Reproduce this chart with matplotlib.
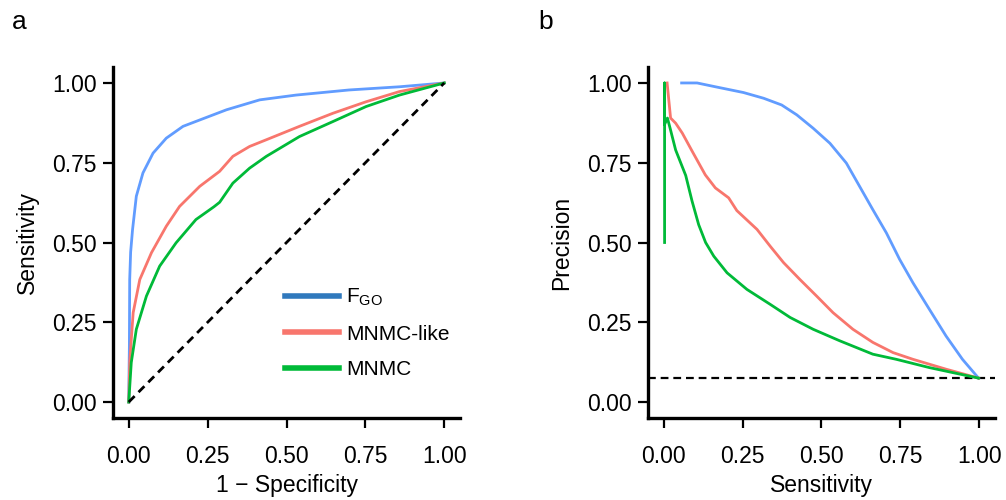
import matplotlib
matplotlib.use("Agg")
import matplotlib.pyplot as plt
from matplotlib.lines import Line2D

plt.rcParams['font.family'] = ['Liberation Sans', 'DejaVu Sans']
plt.rcParams['mathtext.fontset'] = 'custom'
plt.rcParams['mathtext.rm'] = 'Liberation Sans'
plt.rcParams['mathtext.it'] = 'Liberation Sans'

# ---------------- ROC data (panel a) ----------------
roc_fgo_fpr = [0, 0.001, 0.002, 0.003, 0.006, 0.012, 0.024, 0.045, 0.077, 0.119, 0.172, 0.225, 0.31, 0.415, 0.53, 0.698, 0.858, 1.0]
roc_fgo_tpr = [0, 0.1, 0.176, 0.384, 0.47, 0.54, 0.645, 0.718, 0.78, 0.827, 0.864, 0.884, 0.916, 0.947, 0.962, 0.978, 0.988, 1.0]

roc_like_fpr = [0, 0.003, 0.014, 0.035, 0.072, 0.119, 0.161, 0.225, 0.288, 0.33, 0.383, 0.436, 0.541, 0.647, 0.752, 0.858, 1.0]
roc_like_tpr = [0, 0.125, 0.28, 0.384, 0.468, 0.551, 0.613, 0.676, 0.723, 0.77, 0.801, 0.822, 0.864, 0.905, 0.941, 0.973, 1.0]

roc_mnmc_fpr = [0, 0.008, 0.024, 0.056, 0.098, 0.15, 0.213, 0.27, 0.288, 0.33, 0.383, 0.436, 0.541, 0.647, 0.752, 0.858, 1.0]
roc_mnmc_tpr = [0, 0.124, 0.228, 0.332, 0.426, 0.499, 0.572, 0.612, 0.626, 0.686, 0.733, 0.77, 0.832, 0.879, 0.926, 0.962, 1.0]

# ---------------- PR data (panel b) ----------------
pr_fgo_rec = [0.057, 0.106, 0.169, 0.253, 0.317, 0.374, 0.422, 0.474, 0.527, 0.579, 0.621, 0.663, 0.706, 0.748, 0.79, 0.842, 0.895, 0.947, 0.998]
pr_fgo_prec = [1.0, 1.0, 0.987, 0.97, 0.952, 0.931, 0.9, 0.858, 0.811, 0.749, 0.676, 0.603, 0.53, 0.447, 0.374, 0.291, 0.207, 0.134, 0.075]

pr_like_rec = [0.011, 0.022, 0.038, 0.059, 0.091, 0.132, 0.164, 0.206, 0.232, 0.296, 0.338, 0.38, 0.432, 0.485, 0.537, 0.6, 0.663, 0.727, 0.79, 0.895, 0.998]
pr_like_prec = [1.0, 0.89, 0.874, 0.843, 0.785, 0.712, 0.671, 0.64, 0.6, 0.541, 0.488, 0.437, 0.384, 0.332, 0.28, 0.228, 0.187, 0.155, 0.134, 0.103, 0.075]

pr_mnmc_rec = [0.003, 0.003, 0.003, 0.012, 0.02, 0.038, 0.07, 0.09, 0.111, 0.133, 0.159, 0.201, 0.264, 0.338, 0.401, 0.474, 0.558, 0.663, 0.737, 0.842, 0.998]
pr_mnmc_prec = [0.5, 1.0, 0.87, 0.89, 0.86, 0.79, 0.71, 0.63, 0.556, 0.5, 0.457, 0.405, 0.353, 0.306, 0.265, 0.228, 0.192, 0.15, 0.134, 0.108, 0.075]

baseline_precision = 0.075

ticks = [0.0, 0.25, 0.5, 0.75, 1.0]
tick_labels = ["0.00", "0.25", "0.50", "0.75", "1.00"]
labels = [r"F$_{\mathrm{GO}}$", "MNMC-like", "MNMC"]

c_blue = "#619CFF"
c_red = "#F8766D"
c_green = "#00BA38"
c_legend_blue = "#3079BD"

fig = plt.figure(figsize=(10.06, 5.0), dpi=100)
axa = fig.add_axes([0.1123, 0.164, 0.345, 0.702])
axb = fig.add_axes([0.644, 0.164, 0.345, 0.702])

lw = 2.0
axa.plot(roc_fgo_fpr, roc_fgo_tpr, color=c_blue, lw=lw)
axa.plot(roc_like_fpr, roc_like_tpr, color=c_red, lw=lw)
axa.plot(roc_mnmc_fpr, roc_mnmc_tpr, color=c_green, lw=lw)
axa.plot([0, 1], [0, 1], color="black", lw=2.0, ls=(0, (3, 2)))

axb.axhline(baseline_precision, color="black", lw=1.6, ls=(0, (3.5, 2.2)))
axb.plot(pr_fgo_rec, pr_fgo_prec, color=c_blue, lw=lw)
axb.plot(pr_like_rec, pr_like_prec, color=c_red, lw=lw)
axb.plot(pr_mnmc_rec, pr_mnmc_prec, color=c_green, lw=lw)

for ax, xl, yl in [(axa, "1 \u2212 Specificity", "Sensitivity"), (axb, "Sensitivity", "Precision")]:
    ax.set_xlim(-0.05, 1.05)
    ax.set_ylim(-0.05, 1.05)
    ax.set_xticks(ticks)
    ax.set_xticklabels(tick_labels)
    ax.set_yticks(ticks)
    ax.set_yticklabels(tick_labels)
    for s in ["top", "right"]:
        ax.spines[s].set_visible(False)
    for s in ["left", "bottom"]:
        ax.spines[s].set_linewidth(2.4)
    ax.tick_params(axis="both", length=7.5, width=1.6, labelsize=16.5, direction="out")
    ax.tick_params(axis="x", pad=12)
    ax.tick_params(axis="y", pad=4)
    ax.set_xlabel(xl, fontsize=16.5, labelpad=4)
    ax.set_ylabel(yl, fontsize=16.5, labelpad=10)

handles = [Line2D([], [], color=c_legend_blue, lw=4),
           Line2D([], [], color=c_red, lw=4),
           Line2D([], [], color=c_green, lw=4)]
axa.legend(handles, labels, loc="lower right", bbox_to_anchor=(1.025, 0.058), frameon=False,
           fontsize=15, handlelength=2.6, handletextpad=0.35, labelspacing=0.78)

fig.text(0.012, 0.942, "a", fontsize=19)
fig.text(0.535, 0.942, "b", fontsize=19)

fig.savefig("out.png", dpi=100)
